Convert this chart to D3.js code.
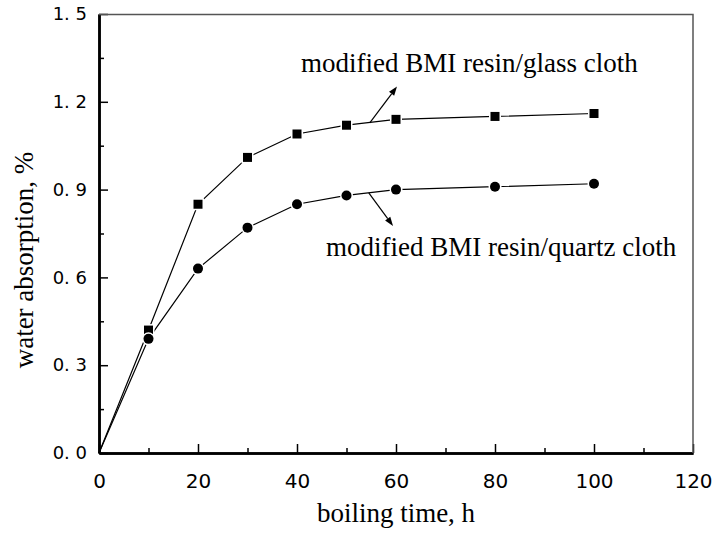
<!DOCTYPE html>
<html>
<head>
<meta charset="utf-8">
<script src="https://cdn.jsdelivr.net/npm/d3@7"></script>
<style>
  body { margin: 0; background: #fff; }
</style>
</head>
<body>
<div id="chart"></div>
<script>
// Data
var times = [0, 10, 20, 30, 40, 50, 60, 80, 100];
var glassCloth = [0, 0.42, 0.85, 1.01, 1.09, 1.12, 1.14, 1.15, 1.16];
var quartzCloth = [0, 0.39, 0.63, 0.77, 0.85, 0.88, 0.90, 0.91, 0.92];

var xTicks = [0, 20, 40, 60, 80, 100, 120];
var yTicks = [0, 0.3, 0.6, 0.9, 1.2, 1.5];
var yTickLabels = ["0. 0", "0. 3", "0. 6", "0. 9", "1. 2", "1. 5"];

var glassLabel = "modified BMI resin/glass cloth";
var quartzLabel = "modified BMI resin/quartz cloth";

var serif = "'Liberation Serif', 'Times New Roman', serif";
var sans = "'DejaVu Sans', sans-serif";

// Chart size
var svgWidth = 714;
var svgHeight = 535;

var margin = { top: 14, right: 21, bottom: 82, left: 99 };

var width = svgWidth - margin.left - margin.right;
var height = svgHeight - margin.top - margin.bottom;

var svg = d3.select("#chart")
  .append("svg")
  .attr("width", svgWidth)
  .attr("height", svgHeight);

var chartGroup = svg.append("g")
  .attr("transform", `translate(${margin.left}, ${margin.top})`);

var xScale = d3.scaleLinear().domain([0, 120]).range([0, width]);
var yScale = d3.scaleLinear().domain([0, 1.5]).range([height, 0]);

// axes first, like the working test
var xMinor = d3.range(10, 120, 20);
var yMinor = d3.range(0.15, 1.5, 0.3);

var bottomAxis = d3.axisBottom(xScale).tickValues(xTicks).tickSizeInner(-9).tickSizeOuter(0).tickPadding(21);
var bottomMinor = d3.axisBottom(xScale).tickValues(xMinor).tickSizeInner(-5).tickSizeOuter(0).tickFormat("");
var leftAxis = d3.axisLeft(yScale).tickValues(yTicks).tickSizeInner(-9).tickSizeOuter(0).tickPadding(12)
  .tickFormat((d, i) => yTickLabels[i]);
var leftMinor = d3.axisLeft(yScale).tickValues(yMinor).tickSizeInner(-5).tickSizeOuter(0).tickFormat("");

var xAxisG = chartGroup.append("g").attr("transform", `translate(0, ${height})`);
xAxisG.append("g").call(bottomMinor);
xAxisG.append("g").call(bottomAxis);

var yAxisG = chartGroup.append("g");
yAxisG.append("g").call(leftMinor);
yAxisG.append("g").call(leftAxis);

svg.selectAll(".domain")
  .attr("stroke", "#000").attr("stroke-width", 2.5)
  .style("stroke", "#000").style("stroke-width", "2.5px");
svg.selectAll(".tick line")
  .attr("stroke", "#000").attr("stroke-width", 1.5)
  .style("stroke", "#000").style("stroke-width", "1.5px");
xAxisG.selectAll(".tick text").attr("font-family", sans).attr("font-size", 20).attr("fill", "#000");
yAxisG.selectAll(".tick text").attr("font-family", sans).attr("font-size", 18).attr("fill", "#000");

// frame: top and right
chartGroup.append("path")
  .attr("d", `M0,0.5H${width}V${height}`)
  .attr("fill", "none")
  .attr("stroke", "#555").attr("stroke-width", 1.5);

// lines
var line = d3.line()
  .x((d, i) => xScale(times[i]))
  .y(d => yScale(d));

[glassCloth, quartzCloth].forEach(function(series) {
  chartGroup.append("path")
    .datum(series)
    .attr("fill", "none")
    .attr("stroke", "#000")
    .attr("stroke-width", 1.2)
    .attr("d", line);
});

// markers (origin point sits on the axes, so skip it)
var glassPts = glassCloth.map((v, i) => ({ t: times[i], v: v })).filter(d => d.t > 0);
var quartzPts = quartzCloth.map((v, i) => ({ t: times[i], v: v })).filter(d => d.t > 0);

var markerGroup = chartGroup.append("g");

markerGroup.selectAll(".sqHalo")
  .data(glassPts)
  .enter()
  .append("rect")
  .attr("x", d => xScale(d.t) - 6)
  .attr("y", d => yScale(d.v) - 6)
  .attr("width", 12).attr("height", 12)
  .attr("fill", "#fff");

markerGroup.selectAll(".sq")
  .data(glassPts)
  .enter()
  .append("rect")
  .attr("x", d => xScale(d.t) - 4.5)
  .attr("y", d => yScale(d.v) - 4.5)
  .attr("width", 9).attr("height", 9)
  .attr("fill", "#000");

markerGroup.selectAll(".dotHalo")
  .data(quartzPts)
  .enter()
  .append("circle")
  .attr("cx", d => xScale(d.t))
  .attr("cy", d => yScale(d.v))
  .attr("r", 6.5)
  .attr("fill", "#fff");

markerGroup.selectAll(".dot")
  .data(quartzPts)
  .enter()
  .append("circle")
  .attr("cx", d => xScale(d.t))
  .attr("cy", d => yScale(d.v))
  .attr("r", 5)
  .attr("fill", "#000");

// annotation arrows (data coords), arrow heads as small triangles
function arrow(t1, v1, t2, v2) {
  var x1 = xScale(t1), y1 = yScale(v1), x2 = xScale(t2), y2 = yScale(v2);
  var a = Math.atan2(y2 - y1, x2 - x1);
  var len = 9, half = 3.2;
  var bx = x2 - len * Math.cos(a), by = y2 - len * Math.sin(a);
  chartGroup.append("line")
    .attr("x1", x1).attr("y1", y1).attr("x2", bx).attr("y2", by)
    .attr("stroke", "#000").attr("stroke-width", 1.2);
  chartGroup.append("path")
    .attr("d", `M${x2},${y2}L${bx - half * Math.sin(a)},${by + half * Math.cos(a)}L${bx + half * Math.sin(a)},${by - half * Math.cos(a)}Z`)
    .attr("fill", "#000");
}
arrow(54.7, 1.128, 60.2, 1.252);
arrow(54.5, 0.889, 59.4, 0.776);

chartGroup.append("text")
  .attr("x", 301 - margin.left).attr("y", 72 - margin.top)
  .attr("font-family", serif).attr("font-size", 27)
  .text(glassLabel);

chartGroup.append("text")
  .attr("x", 326 - margin.left).attr("y", 256 - margin.top)
  .attr("font-family", serif).attr("font-size", 27)
  .text(quartzLabel);

// axis titles
svg.append("text")
  .attr("transform", "translate(33, 260) rotate(-90)")
  .attr("text-anchor", "middle")
  .attr("font-family", serif).attr("font-size", 27)
  .text("water absorption, %");

svg.append("text")
  .attr("x", margin.left + width / 2).attr("y", 522)
  .attr("text-anchor", "middle")
  .attr("font-family", serif).attr("font-size", 27)
  .text("boiling time, h");
</script>
</body>
</html>
